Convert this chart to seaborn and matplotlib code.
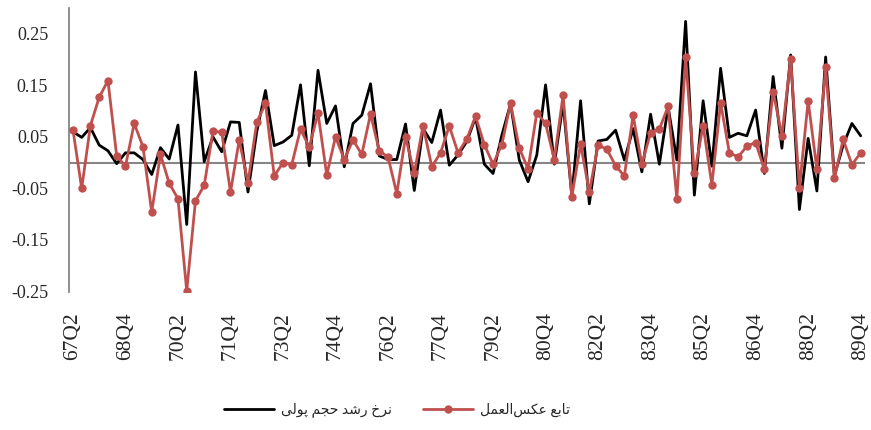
import numpy as np
import pandas as pd
import matplotlib
matplotlib.use('Agg')
import matplotlib.pyplot as plt
import seaborn as sns

# quarterly series, 67Q2 .. 89Q4 (91 quarters)
money_growth = [
    0.060, 0.049, 0.068, 0.034, 0.023, -0.002, 0.019, 0.019, 0.006, -0.023,
    0.029, 0.007, 0.073, -0.120, 0.176, 0.002, 0.050, 0.021, 0.079, 0.078,
    -0.057, 0.060, 0.140, 0.033, 0.040, 0.053, 0.151, -0.006, 0.179, 0.076,
    0.110, -0.008, 0.076, 0.092, 0.153, 0.013, 0.006, 0.006, 0.075, -0.054,
    0.066, 0.039, 0.102, -0.005, 0.015, 0.041, 0.088, -0.003, -0.021, 0.053,
    0.114, 0.005, -0.037, 0.015, 0.151, -0.003, 0.115, -0.065, 0.120, -0.080,
    0.042, 0.045, 0.063, 0.005, 0.066, -0.018, 0.094, -0.003, 0.108, 0.005,
    0.274, -0.063, 0.120, -0.007, 0.183, 0.049, 0.057, 0.052, 0.102, -0.021,
    0.167, 0.028, 0.209, -0.091, 0.047, -0.055, 0.205, -0.026, 0.034, 0.076,
    0.052,
]
reaction_fn = [
    0.064, -0.050, 0.072, 0.127, 0.159, 0.013, -0.007, 0.076, 0.031, -0.096,
    0.016, -0.040, -0.070, -0.249, -0.074, -0.044, 0.061, 0.059, -0.057, 0.044,
    -0.039, 0.078, 0.115, -0.026, 0.000, -0.004, 0.065, 0.030, 0.096, -0.024,
    0.050, 0.006, 0.044, 0.016, 0.094, 0.023, 0.011, -0.060, 0.050, -0.021,
    0.072, -0.008, 0.019, 0.071, 0.019, 0.046, 0.090, 0.035, -0.003, 0.035,
    0.115, 0.028, -0.012, 0.097, 0.076, 0.006, 0.131, -0.066, 0.036, -0.057,
    0.034, 0.026, -0.006, -0.026, 0.092, -0.003, 0.058, 0.065, 0.109, -0.070,
    0.204, -0.021, 0.072, -0.043, 0.116, 0.019, 0.011, 0.032, 0.039, -0.013,
    0.138, 0.052, 0.201, -0.049, 0.120, -0.013, 0.185, -0.030, 0.045, -0.004,
    0.019,
]
tick_labels = ['67Q2', '68Q4', '70Q2', '71Q4', '73Q2', '74Q4', '76Q2', '77Q4',
               '79Q2', '80Q4', '82Q2', '83Q4', '85Q2', '86Q4', '88Q2', '89Q4']
y_ticks = [0.25, 0.15, 0.05, -0.05, -0.15, -0.25]
y_tick_labels = ['0.25', '0.15', '0.05', '-0.05', '-0.15', '-0.25']
label_money = 'نرخ رشد حجم پولی'
label_reaction = 'تابع عکس\u200cالعمل'

# matplotlib has no Arabic shaping: pick contextual forms by hand
# (isolated, final, initial, medial); None = letter does not join forward
FORMS = {
    'ا': ('\uFE8D', '\uFE8E', None, None),
    'ب': ('\uFE8F', '\uFE90', '\uFE91', '\uFE92'),
    'ت': ('\uFE95', '\uFE96', '\uFE97', '\uFE98'),
    'ج': ('\uFE9D', '\uFE9E', '\uFE9F', '\uFEA0'),
    'ح': ('\uFEA1', '\uFEA2', '\uFEA3', '\uFEA4'),
    'خ': ('\uFEA5', '\uFEA6', '\uFEA7', '\uFEA8'),
    'د': ('\uFEA9', '\uFEAA', None, None),
    'ر': ('\uFEAD', '\uFEAE', None, None),
    'س': ('\uFEB1', '\uFEB2', '\uFEB3', '\uFEB4'),
    'ش': ('\uFEB5', '\uFEB6', '\uFEB7', '\uFEB8'),
    'ع': ('\uFEC9', '\uFECA', '\uFECB', '\uFECC'),
    'ل': ('\uFEDD', '\uFEDE', '\uFEDF', '\uFEE0'),
    'م': ('\uFEE1', '\uFEE2', '\uFEE3', '\uFEE4'),
    'ن': ('\uFEE5', '\uFEE6', '\uFEE7', '\uFEE8'),
    'و': ('\uFEED', '\uFEEE', None, None),
    'پ': ('\uFB56', '\uFB57', '\uFB58', '\uFB59'),
    'ک': ('\uFB8E', '\uFB8F', '\uFB90', '\uFB91'),
    'ی': ('\uFBFC', '\uFBFD', '\uFBFE', '\uFBFF'),
}


def shape(text):
    out = []
    for k, ch in enumerate(text):
        if ch not in FORMS:
            if ch != '\u200c':
                out.append(ch)
            continue
        iso, fin, ini, med = FORMS[ch]
        prev = text[k - 1] if k > 0 else None
        nxt = text[k + 1] if k + 1 < len(text) else None
        join_prev = prev in FORMS and FORMS[prev][2] is not None
        join_next = ini is not None and nxt in FORMS
        if join_prev and join_next:
            out.append(med)
        elif join_prev:
            out.append(fin)
        elif join_next:
            out.append(ini)
        else:
            out.append(iso)
    return ''.join(reversed(out))


df = pd.DataFrame({'q': np.arange(len(money_growth)),
                   'money': money_growth, 'reaction': reaction_fn})

sns.set_style('white')
plt.rcParams['font.family'] = ['Liberation Serif', 'DejaVu Sans']

fig = plt.figure(figsize=(8.71, 4.30), dpi=100)
ax = fig.add_axes([69 / 871, 138.5 / 430, 795.6 / 871, 283.5 / 430])

ax.axhline(0, color='#868686', lw=1.5, zorder=1)
sns.lineplot(data=df, x='q', y='money', ax=ax, color='black', lw=2,
             label=shape(label_money), zorder=3)
sns.lineplot(data=df, x='q', y='reaction', ax=ax, color='#C0504D', lw=2,
             marker='o', markersize=6, markeredgewidth=0,
             label=shape(label_reaction), zorder=4)

ax.set_xlim(-0.45, 90.45)
ax.set_ylim(-0.25, 0.30)
ax.set_xticks(np.arange(0, len(money_growth), 6))
ax.set_xticklabels(tick_labels, rotation=90, fontsize=15.5)
ax.set_yticks(y_ticks)
ax.set_yticklabels(y_tick_labels, fontsize=13)
ax.tick_params(axis='x', length=0, pad=15)
ax.tick_params(axis='y', length=0, pad=15)
ax.set_xlabel('')
ax.set_ylabel('')

for side in ['top', 'right', 'bottom']:
    ax.spines[side].set_visible(False)
ax.spines['left'].set_color('#868686')
ax.spines['left'].set_linewidth(1.3)

ax.get_legend().remove()
handles, labels = ax.get_legend_handles_labels()
fig.legend(handles, labels, loc='center', bbox_to_anchor=(397 / 871, 20 / 430),
           ncol=2, frameon=False, handlelength=3.6,
           handletextpad=0.5, columnspacing=2.2,
           prop={'family': ['Liberation Serif', 'DejaVu Sans'], 'size': 10})

plt.savefig('out.png', dpi=100)
plt.close()
